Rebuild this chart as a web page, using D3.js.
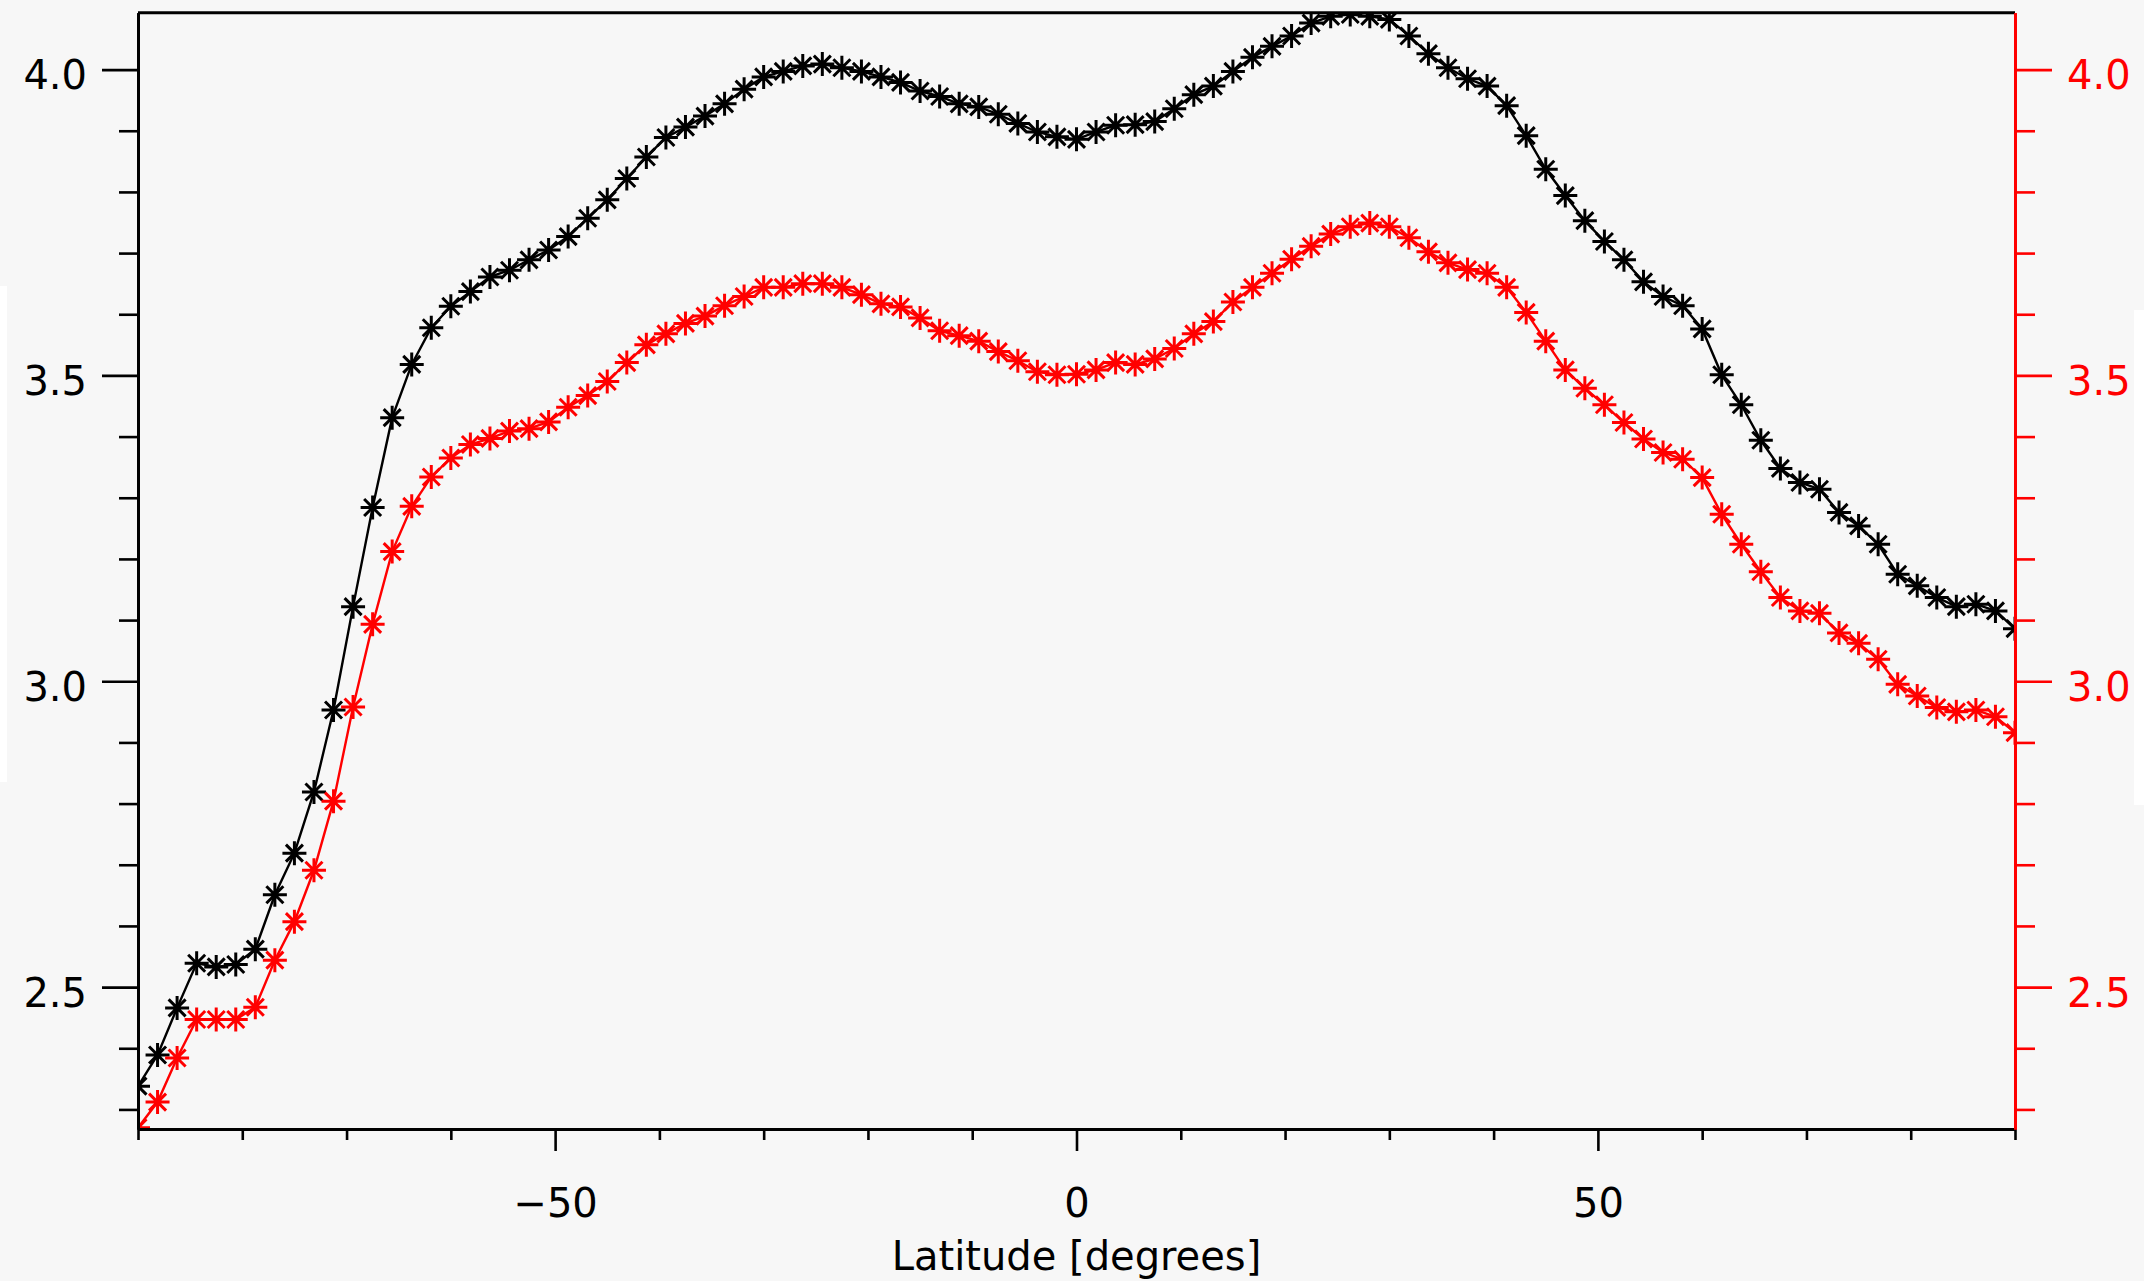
<!DOCTYPE html>
<html>
<head>
<meta charset="utf-8">
<title>Latitude profile</title>
<style type="text/css">
  body { margin: 0; background: #f7f7f7; }
  svg { display: block; }
  .lbl { font-family: "DejaVu Sans", sans-serif; font-size: 40px; }
</style>
</head>
<body>
<div id="chart"></div>
<script src="https://d3js.org/d3.v7.min.js"></script>
<script>

// latitude grid (degrees)
var latitudes = [
  -90, -88.125, -86.25, -84.375, -82.5, -80.625, -78.75, -76.875, -75, -73.125,
  -71.25, -69.375, -67.5, -65.625, -63.75, -61.875, -60, -58.125, -56.25, -54.375,
  -52.5, -50.625, -48.75, -46.875, -45, -43.125, -41.25, -39.375, -37.5, -35.625,
  -33.75, -31.875, -30, -28.125, -26.25, -24.375, -22.5, -20.625, -18.75, -16.875,
  -15, -13.125, -11.25, -9.375, -7.5, -5.625, -3.75, -1.875, 0, 1.875,
  3.75, 5.625, 7.5, 9.375, 11.25, 13.125, 15, 16.875, 18.75, 20.625,
  22.5, 24.375, 26.25, 28.125, 30, 31.875, 33.75, 35.625, 37.5, 39.375,
  41.25, 43.125, 45, 46.875, 48.75, 50.625, 52.5, 54.375, 56.25, 58.125,
  60, 61.875, 63.75, 65.625, 67.5, 69.375, 71.25, 73.125, 75, 76.875,
  78.75, 80.625, 82.5, 84.375, 86.25, 88.125, 90
];

// black series (left axis)
var blackValues = [
  2.338, 2.389, 2.466, 2.539, 2.533, 2.537, 2.562, 2.651, 2.719, 2.819,
  2.953, 3.122, 3.284, 3.431, 3.518, 3.578, 3.613, 3.637, 3.661, 3.672,
  3.689, 3.705, 3.727, 3.757, 3.787, 3.822, 3.857, 3.889, 3.906, 3.924,
  3.944, 3.968, 3.988, 3.997, 4.006, 4.009, 4.003, 3.997, 3.988, 3.979,
  3.965, 3.956, 3.944, 3.939, 3.927, 3.912, 3.898, 3.890, 3.886, 3.898,
  3.909, 3.910, 3.915, 3.936, 3.959, 3.973, 3.997, 4.020, 4.038, 4.055,
  4.076, 4.087, 4.090, 4.087, 4.082, 4.055, 4.026, 4.003, 3.985, 3.973,
  3.941, 3.892, 3.837, 3.794, 3.753, 3.719, 3.689, 3.653, 3.629, 3.614,
  3.576, 3.501, 3.452, 3.394, 3.348, 3.325, 3.314, 3.276, 3.254, 3.224,
  3.175, 3.156, 3.137, 3.122, 3.126, 3.115, 3.086
];

// red series (right axis, same scale)
var redValues = [
  2.270, 2.312, 2.384, 2.447, 2.447, 2.447, 2.467, 2.544, 2.607, 2.691,
  2.804, 2.958, 3.093, 3.212, 3.286, 3.334, 3.365, 3.387, 3.397, 3.409,
  3.413, 3.424, 3.448, 3.467, 3.490, 3.521, 3.550, 3.568, 3.585, 3.597,
  3.614, 3.629, 3.644, 3.644, 3.650, 3.650, 3.644, 3.632, 3.617, 3.612,
  3.594, 3.573, 3.565, 3.556, 3.539, 3.524, 3.506, 3.501, 3.502, 3.509,
  3.521, 3.518, 3.527, 3.544, 3.568, 3.588, 3.620, 3.644, 3.667, 3.690,
  3.711, 3.731, 3.743, 3.749, 3.743, 3.725, 3.702, 3.684, 3.673, 3.667,
  3.644, 3.603, 3.556, 3.509, 3.479, 3.452, 3.423, 3.396, 3.374, 3.363,
  3.333, 3.273, 3.224, 3.179, 3.137, 3.115, 3.111, 3.079, 3.062, 3.036,
  2.995, 2.976, 2.957, 2.950, 2.953, 2.942, 2.916
];

var xMajor = [-50, 0, 50];
var xMinor = [-90, -80, -70, -60, -40, -30, -20, -10, 10, 20, 30, 40, 60, 70, 80, 90];
var yMajor = [2.5, 3.0, 3.5, 4.0];
var yMinor = [2.3, 2.4, 2.6, 2.7, 2.8, 2.9, 3.1, 3.2, 3.3, 3.4, 3.6, 3.7, 3.8, 3.9];
var yDomain = [2.268, 4.093];
var xTitle = "Latitude [degrees]";

var width = 2144, height = 1281;
var plotLeft = 138, plotRight = 2015, plotTop = 12.7, plotBottom = 1129;

var svg = d3.select("#chart").append("svg")
    .attr("width", width)
    .attr("height", height);

svg.append("rect").attr("width", width).attr("height", height).attr("fill", "#f7f7f7");
// white strips at the edges of the original screenshot
svg.append("rect").attr("x", 0).attr("y", 286).attr("width", 7).attr("height", 496).attr("fill", "#ffffff");
svg.append("rect").attr("x", 2134).attr("y", 310).attr("width", 10).attr("height", 495).attr("fill", "#ffffff");

var x = d3.scaleLinear().domain([-90, 90]).range([plotLeft, plotRight]);
var y = d3.scaleLinear().domain(yDomain).range([plotBottom, plotTop]);

svg.append("clipPath").attr("id", "plotclip")
  .append("rect")
    .attr("x", plotLeft).attr("y", plotTop)
    .attr("width", plotRight - plotLeft).attr("height", plotBottom - plotTop);

var plot = svg.append("g").attr("clip-path", "url(#plotclip)");

var line = d3.line()
    .x(function(d) { return x(d[0]); })
    .y(function(d) { return y(d[1]); });

// IDL style asterisk
var r = 12, d2 = 8.5;
var star = "M" + (-r) + ",0L" + r + ",0M0," + (-r) + "L0," + r +
           "M" + (-d2) + "," + (-d2) + "L" + d2 + "," + d2 +
           "M" + (-d2) + "," + d2 + "L" + d2 + "," + (-d2);

function drawSeries(values, colour) {
  var pts = latitudes.map(function(lat, i) { return [lat, values[i]]; });
  var g = plot.append("g");
  g.append("path")
      .datum(pts)
      .attr("d", line)
      .attr("fill", "none")
      .attr("stroke", colour)
      .attr("stroke-width", 2.4);
  g.selectAll("path.mark")
      .data(pts)
      .enter().append("path")
      .attr("class", "mark")
      .attr("d", star)
      .attr("transform", function(d) { return "translate(" + x(d[0]) + "," + y(d[1]) + ")"; })
      .attr("fill", "none")
      .attr("stroke", colour)
      .attr("stroke-width", 3);
}

drawSeries(blackValues, "#000000");
drawSeries(redValues, "#ff0000");

function styleAxis(g, colour) {
  g.select(".domain").attr("stroke", colour).attr("stroke-width", 3);
  g.selectAll(".tick line").attr("stroke", colour).attr("stroke-width", 2.6);
  g.selectAll("text").attr("class", "lbl").attr("fill", colour)
      .style("font-family", "'DejaVu Sans', sans-serif").style("font-size", "40px");
}

// bottom axis
var gxMinor = svg.append("g").attr("transform", "translate(0," + plotBottom + ")")
    .call(d3.axisBottom(x).tickValues(xMinor).tickSize(11).tickSizeOuter(0).tickFormat(""));
styleAxis(gxMinor, "#000");
var gx = svg.append("g").attr("transform", "translate(0," + plotBottom + ")")
    .call(d3.axisBottom(x).tickValues(xMajor).tickSize(22).tickSizeOuter(0).tickFormat(d3.format("d")));
styleAxis(gx, "#000");
gx.selectAll("text").attr("y", 88).attr("dy", 0);

// top line
svg.append("line")
    .attr("x1", plotLeft).attr("x2", plotRight).attr("y1", plotTop).attr("y2", plotTop)
    .attr("stroke", "#000").attr("stroke-width", 3);

// left axis
var gyMinor = svg.append("g").attr("transform", "translate(" + plotLeft + ",0)")
    .call(d3.axisLeft(y).tickValues(yMinor).tickSize(19).tickSizeOuter(0).tickFormat(""));
styleAxis(gyMinor, "#000");
var gy = svg.append("g").attr("transform", "translate(" + plotLeft + ",0)")
    .call(d3.axisLeft(y).tickValues(yMajor).tickSize(36).tickPadding(15).tickSizeOuter(0).tickFormat(d3.format(".1f")));
styleAxis(gy, "#000");
gy.selectAll("text").attr("dy", "0.48em");

// right axis (red)
var gyrMinor = svg.append("g").attr("transform", "translate(" + plotRight + ",0)")
    .call(d3.axisRight(y).tickValues(yMinor).tickSize(20).tickSizeOuter(0).tickFormat(""));
styleAxis(gyrMinor, "#ff0000");
var gyr = svg.append("g").attr("transform", "translate(" + plotRight + ",0)")
    .call(d3.axisRight(y).tickValues(yMajor).tickSize(37).tickPadding(15).tickSizeOuter(0).tickFormat(d3.format(".1f")));
styleAxis(gyr, "#ff0000");
gyr.selectAll("text").attr("dy", "0.48em");

// x title
svg.append("text")
    .attr("class", "lbl")
    .attr("x", (plotLeft + plotRight) / 2)
    .attr("y", 1270)
    .attr("text-anchor", "middle")
    .attr("fill", "#000")
    .text(xTitle);

</script>
</body>
</html>
